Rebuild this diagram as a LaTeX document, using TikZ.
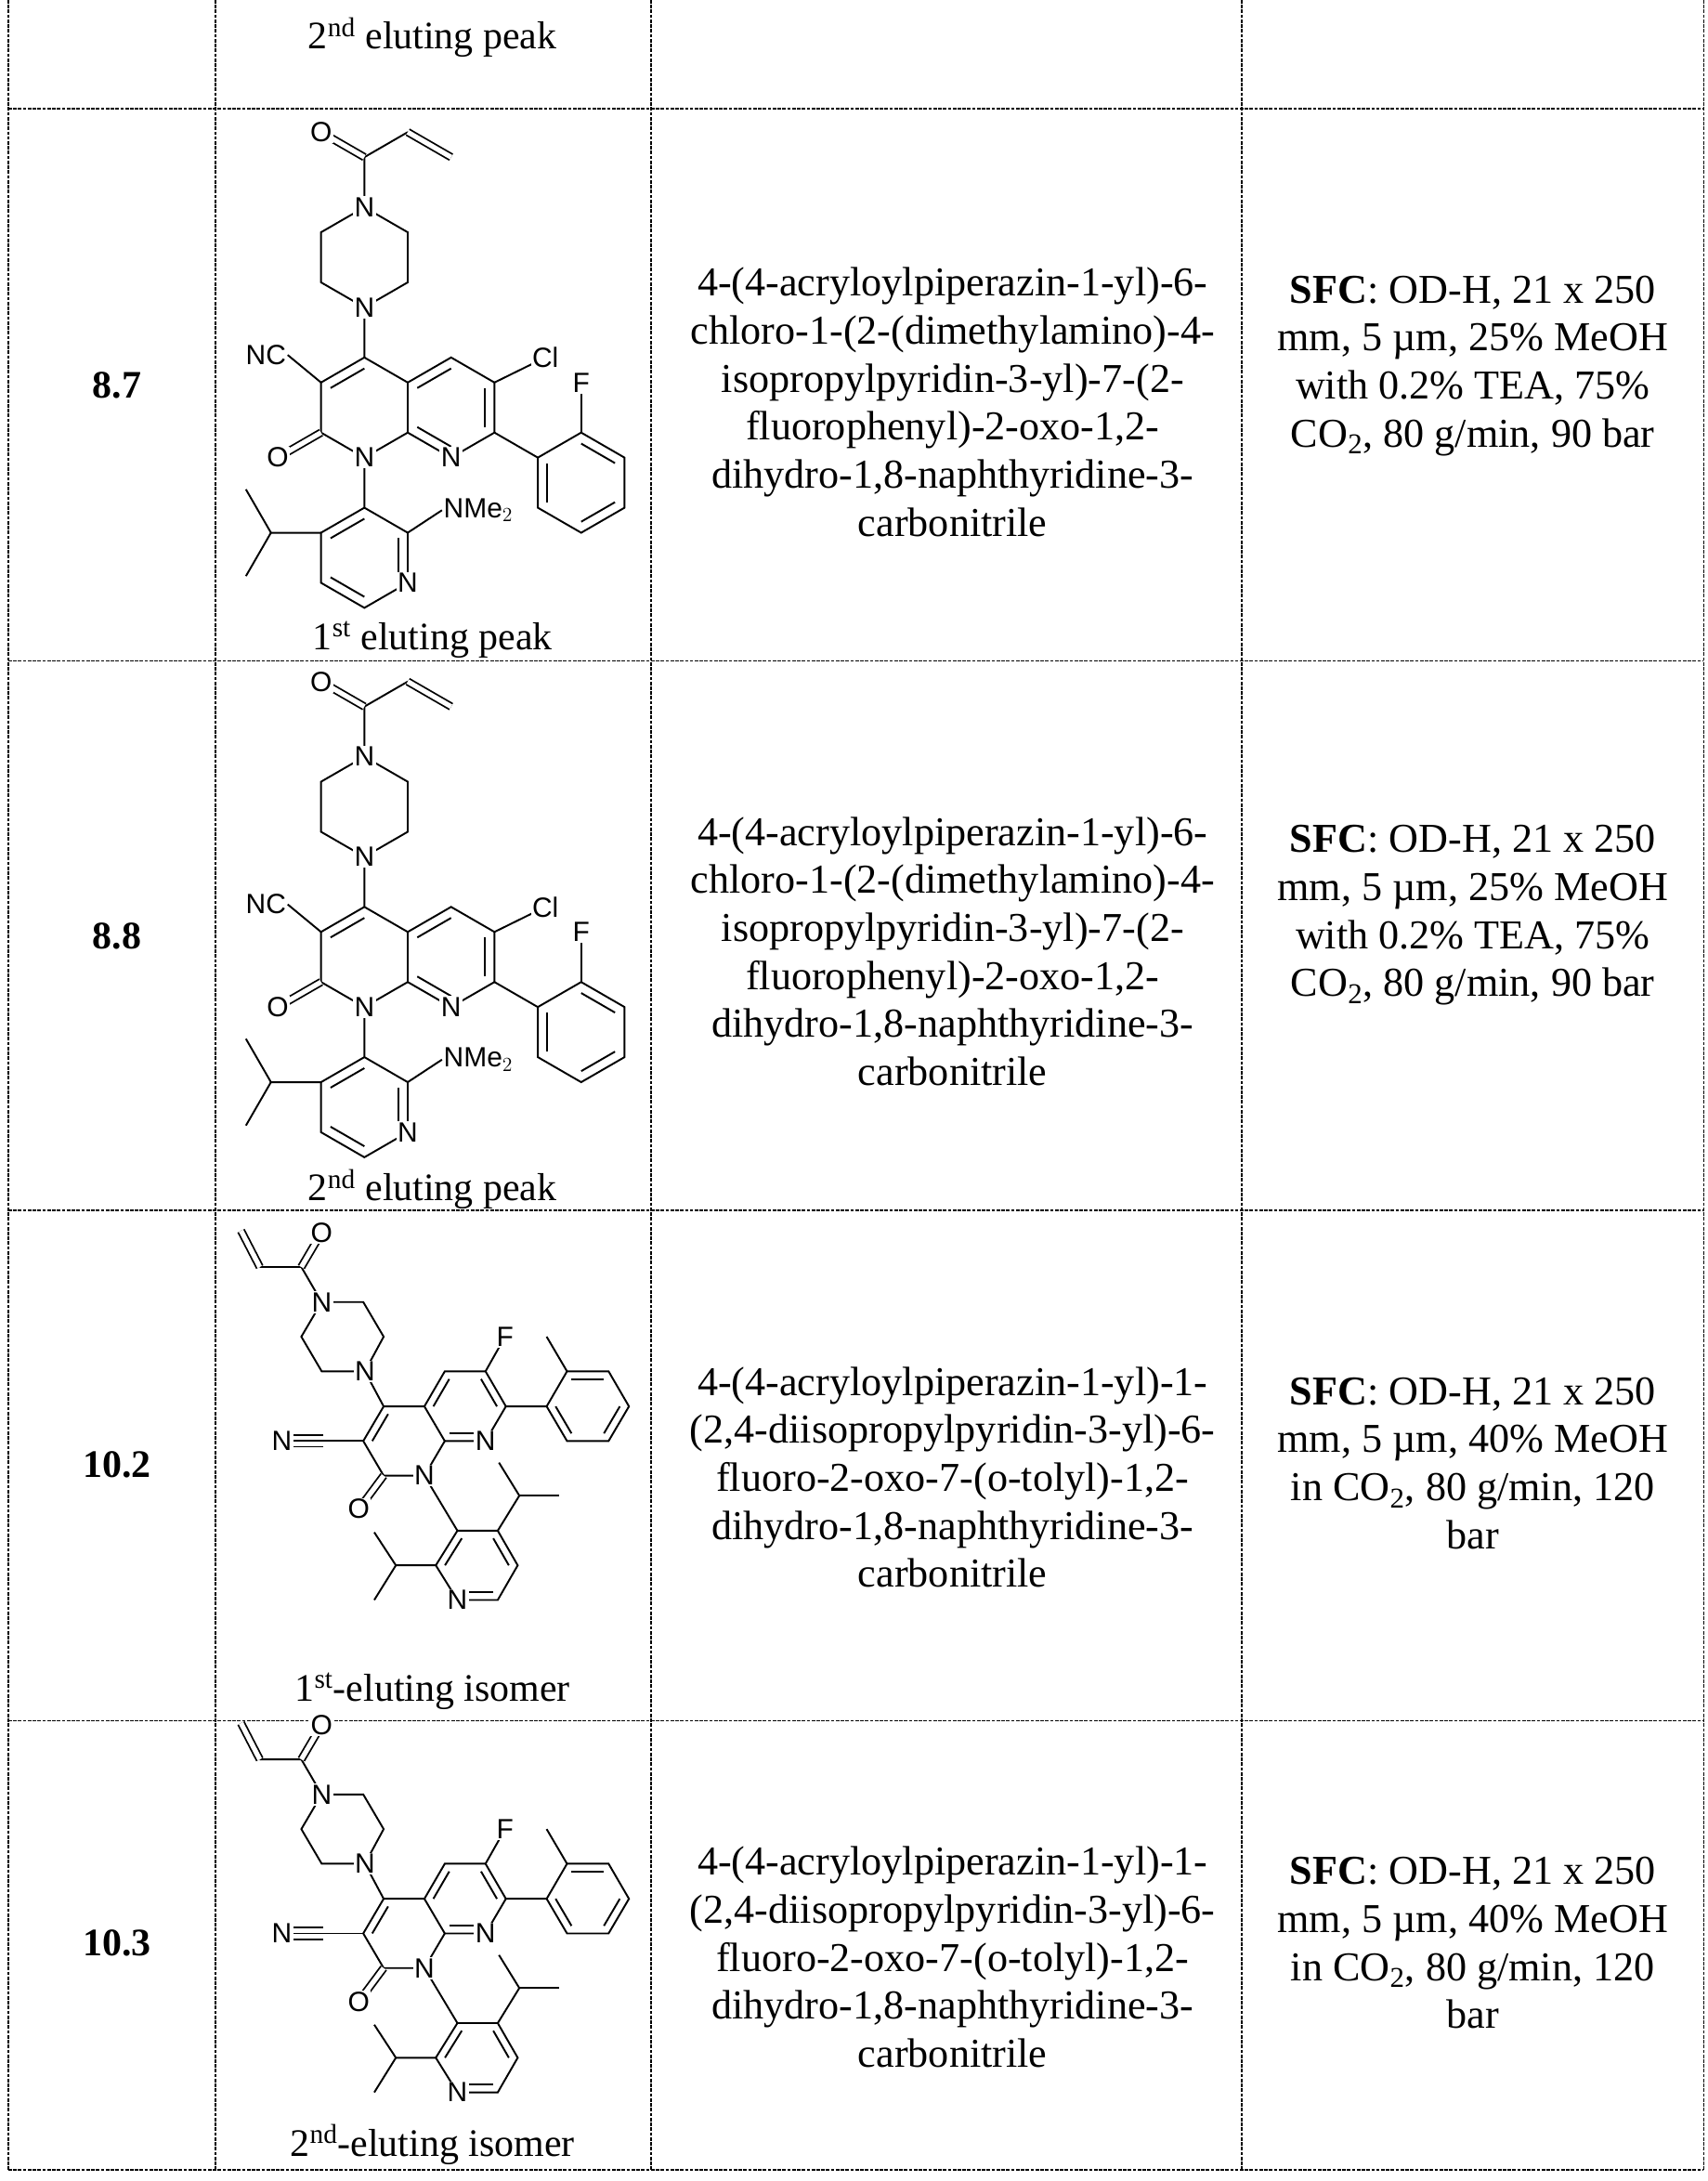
\documentclass[tikz,border=0pt]{standalone}
\usepackage{fontspec}
\setmainfont{Liberation Serif}
\setsansfont{Liberation Sans}
\usetikzlibrary{calc}
\newcommand\hs{0.866}
\tikzset{
 grid/.style={line width=1pt, dash pattern=on 2.5pt off 1pt},
 bond/.style={line width=1.3pt},
 dbond/.style={line width=1.2pt, double, double distance=3.5pt},
 atom/.style={font=\sffamily\fontsize{20}{20}\selectfont, fill=white, inner sep=1pt},
 txt/.style={font=\fontsize{29.5}{34.5}\selectfont, align=center},
 lbl/.style={font=\fontsize{28}{30}\selectfont},
 num/.style={font=\bfseries\fontsize{28}{30}\selectfont}
}
% inner double-bond line
\newcommand\inn[3]{\draw[bond] ($(#1)!0.22!(#3)$) -- ($(#2)!0.22!(#3)$);}
% molecule of 8.7 / 8.8
\newcommand\molA[3]{%
\begin{scope}[shift={(#1,#2)},x={(36pt,0)},y={(0,36pt)}]
\coordinate (#3cA) at (0,0); \coordinate (#3cB) at (2*\hs,0);
\coordinate (#3c4) at (0,1); \coordinate (#3c4a) at (\hs,.5);
\coordinate (#3c8a) at (\hs,-.5); \coordinate (#3n1) at (0,-1);
\coordinate (#3c2) at (-\hs,-.5); \coordinate (#3c3) at (-\hs,.5);
\coordinate (#3c5) at (2*\hs,1); \coordinate (#3c6) at (3*\hs,.5);
\coordinate (#3c7) at (3*\hs,-.5); \coordinate (#3n8) at (2*\hs,-1);
\coordinate (#3o2) at (-2*\hs,-1); \coordinate (#3cl) at (4*\hs+.15,1);
\coordinate (#3f) at (5*\hs,.5);
\coordinate (#3cP) at (5*\hs,-1.5);
\coordinate (#3p1) at (4*\hs,-1); \coordinate (#3p2) at (5*\hs,-.5);
\coordinate (#3p3) at (6*\hs,-1); \coordinate (#3p4) at (6*\hs,-2);
\coordinate (#3p5) at (5*\hs,-2.5); \coordinate (#3p6) at (4*\hs,-2);
\coordinate (#3nb) at (0,2); \coordinate (#3z1) at (\hs,2.5);
\coordinate (#3z2) at (\hs,3.5); \coordinate (#3nt) at (0,4);
\coordinate (#3z3) at (-\hs,3.5); \coordinate (#3z4) at (-\hs,2.5);
\coordinate (#3co) at (0,5); \coordinate (#3ot) at (-\hs,5.5);
\coordinate (#3v1) at (\hs,5.5); \coordinate (#3v2) at (2*\hs,5);
\coordinate (#3cQ) at (0,-3);
\coordinate (#3q3) at (0,-2); \coordinate (#3q2) at (\hs,-2.5);
\coordinate (#3qn) at (\hs,-3.5); \coordinate (#3q6) at (0,-4);
\coordinate (#3q5) at (-\hs,-3.5); \coordinate (#3q4) at (-\hs,-2.5);
\coordinate (#3ip) at (-\hs-1,-2.5);
\coordinate (#3m1) at (-\hs-1.5,-2.5+\hs); \coordinate (#3m2) at (-\hs-1.5,-2.5-\hs);
\node[atom,anchor=east] (#3NC) at (-2*\hs+.2,1.05) {NC};
\node[atom,anchor=west] (#3NM) at (1.55,-2.05) {NMe$_2$};
\draw[bond] (#3c4)--(#3c4a)--(#3c8a)--(#3n1)--(#3c2)--(#3c3)--(#3c4);
\draw[bond] (#3c4a)--(#3c5)--(#3c6)--(#3c7)--(#3n8)--(#3c8a);
\draw[bond] (#3c3)--(#3NC.east);
\draw[dbond] (#3c2)--(#3o2);
\draw[bond] (#3c6)--(#3cl);
\draw[bond] (#3c7)--(#3p1)--(#3p2)--(#3p3)--(#3p4)--(#3p5)--(#3p6)--(#3p1);
\draw[bond] (#3p2)--(#3f);
\draw[bond] (#3c4)--(#3nb)--(#3z1)--(#3z2)--(#3nt)--(#3z3)--(#3z4)--(#3nb);
\draw[bond] (#3nt)--(#3co)--(#3v1);
\draw[dbond] (#3co)--(#3ot);
\draw[dbond] (#3v1)--(#3v2);
\draw[bond] (#3n1)--(#3q3)--(#3q2)--(#3qn)--(#3q6)--(#3q5)--(#3q4)--(#3q3);
\draw[bond] (#3q2)--(#3NM.west);
\draw[bond] (#3q4)--(#3ip)--(#3m1); \draw[bond] (#3ip)--(#3m2);
\inn{#3c3}{#3c4}{#3cA} \inn{#3c4a}{#3c5}{#3cB} \inn{#3c6}{#3c7}{#3cB}
\inn{#3c8a}{#3n8}{#3cB}
\inn{#3p2}{#3p3}{#3cP} \inn{#3p6}{#3p1}{#3cP} \inn{#3p4}{#3p5}{#3cP}
\inn{#3q3}{#3q4}{#3cQ} \inn{#3q2}{#3qn}{#3cQ} \inn{#3q5}{#3q6}{#3cQ}
\node[atom] (#3N1) at (#3n1) {N};
\node[atom] (#3N8) at (#3n8) {N};
\node[atom] (#3O2) at (#3o2) {O};
\node[atom] (#3Cl) at (#3cl) {Cl};
\node[atom] (#3F) at (#3f) {F};
\node[atom] (#3NB) at (#3nb) {N};
\node[atom] (#3NT) at (#3nt) {N};
\node[atom] (#3OT) at (#3ot) {O};
\node[atom] (#3QN) at (#3qn) {N};
\end{scope}}
% molecule of 10.2 / 10.3
\newcommand\molB[3]{%
\begin{scope}[shift={(#1,#2)},x={(29.3pt,0)},y={(0,29.3pt)}]
\coordinate (#3cA) at (0,0); \coordinate (#3cB) at (1.5,.85);
\coordinate (#3c8a) at (1,0); \coordinate (#3c4a) at (.5,.85);
\coordinate (#3c4) at (-.5,.85); \coordinate (#3c3) at (-1,0);
\coordinate (#3c2) at (-.5,-.85); \coordinate (#3n1) at (.5,-.85);
\coordinate (#3c5) at (1,1.71); \coordinate (#3c6) at (2,1.71);
\coordinate (#3c7) at (2.5,.85); \coordinate (#3n8) at (2,0);
\coordinate (#3cc) at (-1.98,0); \coordinate (#3cn) at (-3.0,0);
\coordinate (#3o2) at (-1.11,-1.67);
\coordinate (#3nb) at (-.96,1.71); \coordinate (#3z1) at (-2.02,1.71);
\coordinate (#3z2) at (-2.52,2.56); \coordinate (#3nt) at (-2.02,3.41);
\coordinate (#3z3) at (-1,3.41); \coordinate (#3z4) at (-.5,2.56);
\coordinate (#3co) at (-2.52,4.27); \coordinate (#3ot) at (-2.02,5.12);
\coordinate (#3v1) at (-3.54,4.27); \coordinate (#3v2) at (-4,5.16);
\coordinate (#3f) at (2.48,2.56);
\coordinate (#3cT) at (4.5,.85);
\coordinate (#3t1) at (3.5,.85); \coordinate (#3t2) at (4,1.71);
\coordinate (#3t3) at (5.02,1.71); \coordinate (#3t4) at (5.52,.85);
\coordinate (#3t5) at (5.02,0); \coordinate (#3t6) at (4,0);
\coordinate (#3tm) at (3.5,2.56);
\coordinate (#3cQ) at (1.8,-3.05);
\coordinate (#3q3) at (1.31,-2.2); \coordinate (#3q4) at (2.3,-2.2);
\coordinate (#3q5) at (2.79,-3.05); \coordinate (#3q6) at (2.3,-3.9);
\coordinate (#3qn) at (1.31,-3.9); \coordinate (#3q2) at (.78,-3.05);
\coordinate (#3i1) at (2.83,-1.34); \coordinate (#3m1) at (2.33,-.53);
\coordinate (#3m2) at (3.81,-1.34);
\coordinate (#3i2) at (-.2,-3.05); \coordinate (#3m3) at (-.73,-2.24);
\coordinate (#3m4) at (-.73,-3.9);
\draw[bond] (#3c4)--(#3c4a)--(#3c8a)--(#3n1)--(#3c2)--(#3c3)--(#3c4);
\draw[bond] (#3c4a)--(#3c5)--(#3c6)--(#3c7)--(#3n8)--(#3c8a);
\draw[bond] (#3c3)--(#3cc);
\draw[bond] (#3cc)--(#3cn);
\draw[bond] ($(#3cc)+(0,.14)$)--($(#3cn)+(0,.14)$);
\draw[bond] ($(#3cc)+(0,-.14)$)--($(#3cn)+(0,-.14)$);
\draw[dbond] (#3c2)--(#3o2);
\draw[bond] (#3c4)--(#3nb)--(#3z1)--(#3z2)--(#3nt)--(#3z3)--(#3z4)--(#3nb);
\draw[bond] (#3nt)--(#3co)--(#3v1);
\draw[dbond] (#3co)--(#3ot);
\draw[dbond] (#3v1)--(#3v2);
\draw[bond] (#3c6)--(#3f);
\draw[bond] (#3c7)--(#3t1)--(#3t2)--(#3t3)--(#3t4)--(#3t5)--(#3t6)--(#3t1);
\draw[bond] (#3t2)--(#3tm);
\draw[bond] (#3n1)--(#3q3)--(#3q4)--(#3q5)--(#3q6)--(#3qn)--(#3q2)--(#3q3);
\draw[bond] (#3q4)--(#3i1)--(#3m1); \draw[bond] (#3i1)--(#3m2);
\draw[bond] (#3q2)--(#3i2)--(#3m3); \draw[bond] (#3i2)--(#3m4);
\inn{#3c3}{#3c4}{#3cA} \inn{#3c4a}{#3c5}{#3cB} \inn{#3c6}{#3c7}{#3cB}
\inn{#3c8a}{#3n8}{#3cB}
\inn{#3t2}{#3t3}{#3cT} \inn{#3t1}{#3t6}{#3cT} \inn{#3t4}{#3t5}{#3cT}
\inn{#3q3}{#3q2}{#3cQ} \inn{#3q4}{#3q5}{#3cQ} \inn{#3q6}{#3qn}{#3cQ}
\node[atom] (#3NN) at (#3cn) {N};
\node[atom] (#3N1) at (#3n1) {N};
\node[atom] (#3N8) at (#3n8) {N};
\node[atom] (#3O2) at (#3o2) {O};
\node[atom] (#3F) at (#3f) {F};
\node[atom] (#3NB) at (#3nb) {N};
\node[atom] (#3NT) at (#3nt) {N};
\node[atom] (#3OT) at (#3ot) {O};
\node[atom] (#3QN) at (#3qn) {N};
\end{scope}}
\begin{document}
\begin{tikzpicture}[x=1pt,y=-1pt]
\useasboundingbox (0,0) rectangle (1228,1568);
\fill[white] (0,0) rectangle (1228,1568);
% grid
\foreach \yy in {78,475,870,1237,1560} \draw[grid] (6,\yy) -- (1225,\yy);
\foreach \xx in {6,155,468,893,1225} \draw[grid] (\xx,0) -- (\xx,1560);
% row 0
\node[lbl] (l0) at (311,27) {2\textsuperscript{nd} eluting peak};
% row 8.7
\node[num] (r1) at (84,277) {8.7};
\molA{262}{293}{a}
\node[lbl] (l1) at (311,460) {1\textsuperscript{st} eluting peak};
\node[txt] (n1) at (685,289) {4-(4-acryloylpiperazin-1-yl)-6-\\chloro-1-(2-(dimethylamino)-4-\\isopropylpyridin-3-yl)-7-(2-\\fluorophenyl)-2-oxo-1,2-\\dihydro-1,8-naphthyridine-3-\\carbonitrile};
\node[txt] (s1) at (1059,263) {\textbf{SFC}: OD-H, 21 x 250\\mm, 5 µm, 25\% MeOH\\with 0.2\% TEA, 75\%\\CO\textsubscript{2}, 80 g/min, 90 bar};
% row 8.8
\node[num] (r2) at (84,673) {8.8};
\molA{262}{688}{b}
\node[lbl] (l2) at (311,855) {2\textsuperscript{nd} eluting peak};
\node[txt] (n2) at (685,684) {4-(4-acryloylpiperazin-1-yl)-6-\\chloro-1-(2-(dimethylamino)-4-\\isopropylpyridin-3-yl)-7-(2-\\fluorophenyl)-2-oxo-1,2-\\dihydro-1,8-naphthyridine-3-\\carbonitrile};
\node[txt] (s2) at (1059,658) {\textbf{SFC}: OD-H, 21 x 250\\mm, 5 µm, 25\% MeOH\\with 0.2\% TEA, 75\%\\CO\textsubscript{2}, 80 g/min, 90 bar};
% row 10.2
\node[num] (r3) at (84,1053) {10.2};
\molB{290.5}{1036}{c}
\node[lbl] (l3) at (311,1216) {1\textsuperscript{st}-eluting isomer};
\node[txt] (n3) at (685,1062) {4-(4-acryloylpiperazin-1-yl)-1-\\(2,4-diisopropylpyridin-3-yl)-6-\\fluoro-2-oxo-7-(o-tolyl)-1,2-\\dihydro-1,8-naphthyridine-3-\\carbonitrile};
\node[txt] (s3) at (1059,1052) {\textbf{SFC}: OD-H, 21 x 250\\mm, 5 µm, 40\% MeOH\\in CO\textsubscript{2}, 80 g/min, 120\\bar};
% row 10.3
\node[num] (r4) at (84,1397) {10.3};
\molB{290.5}{1390}{d}
\node[lbl] (l4) at (311,1542) {2\textsuperscript{nd}-eluting isomer};
\node[txt] (n4) at (685,1407) {4-(4-acryloylpiperazin-1-yl)-1-\\(2,4-diisopropylpyridin-3-yl)-6-\\fluoro-2-oxo-7-(o-tolyl)-1,2-\\dihydro-1,8-naphthyridine-3-\\carbonitrile};
\node[txt] (s4) at (1059,1397) {\textbf{SFC}: OD-H, 21 x 250\\mm, 5 µm, 40\% MeOH\\in CO\textsubscript{2}, 80 g/min, 120\\bar};
\end{tikzpicture}
\end{document}
